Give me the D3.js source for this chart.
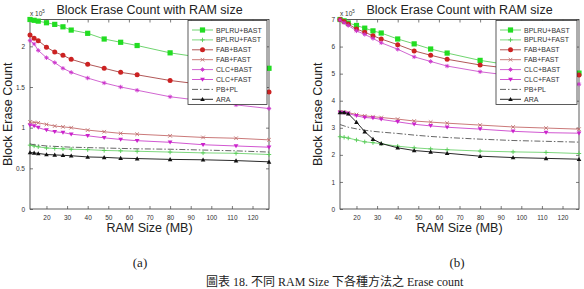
<!DOCTYPE html>
<html>
<head>
<meta charset="utf-8">
<script src="https://cdn.jsdelivr.net/npm/d3@7"></script>
<style>
  body { margin: 0; background: #fff; }
  svg { display: block; }
</style>
</head>
<body>
<svg id="drawing_region"></svg>
<script>
// RAM sizes (MB) on the x axis
const ramSizes = [12, 14, 16, 20, 24, 28, 32, 40, 48, 56, 64, 80, 96, 112, 128];
const xTicks = [20, 30, 40, 50, 60, 70, 80, 90, 100, 110, 120];
const seriesNames = ["BPLRU+BAST", "BPLRU+FAST", "FAB+BAST", "FAB+FAST", "CLC+BAST", "CLC+FAST", "PB+PL", "ARA"];

// (a) values in units of 10^5
const bplruBastA = [2.33, 2.32, 2.31, 2.29, 2.27, 2.24, 2.20, 2.16, 2.09, 2.05, 2.01, 1.92, 1.86, 1.79, 1.73];
const bplruFastA = [0.785, 0.775, 0.765, 0.75, 0.745, 0.74, 0.735, 0.73, 0.72, 0.715, 0.71, 0.70, 0.69, 0.685, 0.67];
const fabBastA   = [2.14, 2.10, 2.07, 1.99, 1.93, 1.89, 1.84, 1.78, 1.73, 1.68, 1.65, 1.58, 1.53, 1.48, 1.44];
const fabFastA   = [1.07, 1.065, 1.06, 1.04, 1.02, 1.01, 1.00, 0.97, 0.95, 0.93, 0.92, 0.90, 0.88, 0.87, 0.85];
const clcBastA   = [2.07, 2.03, 1.95, 1.86, 1.80, 1.73, 1.68, 1.61, 1.55, 1.50, 1.46, 1.38, 1.33, 1.28, 1.235];
const clcFastA   = [1.03, 1.02, 1.00, 0.97, 0.95, 0.94, 0.92, 0.90, 0.875, 0.855, 0.84, 0.82, 0.79, 0.775, 0.76];
const pbPlA      = [0.80, 0.79, 0.785, 0.775, 0.77, 0.765, 0.76, 0.755, 0.75, 0.745, 0.74, 0.735, 0.725, 0.715, 0.70];
const araA       = [0.695, 0.69, 0.683, 0.67, 0.665, 0.66, 0.655, 0.64, 0.635, 0.625, 0.62, 0.61, 0.605, 0.595, 0.58];
const yTicksA = [0, 0.5, 1, 1.5, 2];

// (b) values in units of 10^5
const bplruBastB = [7.0, 6.95, 6.87, 6.78, 6.68, 6.58, 6.50, 6.28, 6.10, 5.91, 5.76, 5.49, 5.30, 5.15, 5.02];
const bplruFastB = [2.67, 2.65, 2.62, 2.55, 2.48, 2.45, 2.41, 2.32, 2.26, 2.22, 2.19, 2.14, 2.11, 2.09, 2.05];
const fabBastB   = [7.0, 6.93, 6.83, 6.65, 6.53, 6.40, 6.28, 6.07, 5.84, 5.68, 5.53, 5.32, 5.18, 5.05, 4.95];
const fabFastB   = [3.59, 3.58, 3.56, 3.49, 3.44, 3.41, 3.38, 3.32, 3.25, 3.21, 3.17, 3.10, 3.03, 2.99, 2.95];
const clcBastB   = [6.98, 6.88, 6.78, 6.58, 6.45, 6.30, 6.14, 5.90, 5.62, 5.45, 5.28, 5.07, 4.92, 4.78, 4.61];
const clcFastB   = [3.56, 3.55, 3.53, 3.44, 3.38, 3.36, 3.31, 3.22, 3.13, 3.07, 3.02, 2.95, 2.87, 2.82, 2.80];
const pbPlB      = [3.12, 3.07, 3.02, 2.96, 2.91, 2.87, 2.84, 2.79, 2.73, 2.68, 2.64, 2.58, 2.53, 2.50, 2.47];
const araB       = [3.57, 3.57, 3.52, 3.21, 2.86, 2.58, 2.42, 2.26, 2.16, 2.11, 2.06, 1.95, 1.90, 1.87, 1.84];
const yTicksB = [0, 1, 2, 3, 4, 5, 6, 7];

// line / marker styles, same order as seriesNames
const styles = [
    {line: '#5fcf5f', mark: '#22dd22', shape: 'square'},
    {line: '#6fd36f', mark: '#55cc55', shape: 'plus'},
    {line: '#a84444', mark: '#cc2222', shape: 'circle'},
    {line: '#c46a6a', mark: '#c07070', shape: 'cross'},
    {line: '#cc55cc', mark: '#cc33cc', shape: 'star'},
    {line: '#cc44cc', mark: '#cc22cc', shape: 'tridown'},
    {line: '#555555', mark: null, shape: null, dash: '6,2,1.5,2'},
    {line: '#111111', mark: '#111111', shape: 'triup'}
];

const svg = d3.select('#drawing_region')
    .attr('width', 584)
    .attr('height', 289);

function drawMarker(g, shape, color, x, y) {
    if (!shape) return;
    if (shape === 'square') {
        g.append('rect').attr('x', x - 2.6).attr('y', y - 2.6)
            .attr('width', 5.2).attr('height', 5.2).attr('fill', color);
    } else if (shape === 'circle') {
        g.append('circle').attr('cx', x).attr('cy', y).attr('r', 2.5).attr('fill', color);
    } else if (shape === 'plus') {
        g.append('path').attr('d', `M${x-2.2},${y}H${x+2.2}M${x},${y-2.2}V${y+2.2}`)
            .attr('stroke', color).attr('stroke-width', 0.9);
    } else if (shape === 'cross') {
        g.append('path').attr('d', `M${x-1.8},${y-1.8}L${x+1.8},${y+1.8}M${x-1.8},${y+1.8}L${x+1.8},${y-1.8}`)
            .attr('stroke', color).attr('stroke-width', 0.9);
    } else if (shape === 'star') {
        g.append('path').attr('d', `M${x-2.2},${y}H${x+2.2}M${x},${y-2.2}V${y+2.2}M${x-1.5},${y-1.5}L${x+1.5},${y+1.5}M${x-1.5},${y+1.5}L${x+1.5},${y-1.5}`)
            .attr('stroke', color).attr('stroke-width', 0.9);
    } else if (shape === 'tridown') {
        g.append('path').attr('d', `M${x-2.4},${y-1.8}L${x+2.4},${y-1.8}L${x},${y+2.2}Z`).attr('fill', color);
    } else if (shape === 'triup') {
        g.append('path').attr('d', `M${x-2.3},${y+1.8}L${x+2.3},${y+1.8}L${x},${y-2.3}Z`).attr('fill', color);
    }
}

function drawChart(config, seriesValues) {
    const x = d3.scaleLinear().domain([12, 128]).range([config.left, config.right]);
    const y = d3.scaleLinear().domain([0, config.ymax]).range([config.bottom, config.top]);
    const g = svg.append('g');

    // frame
    g.append('rect')
        .attr('x', config.left).attr('y', config.top)
        .attr('width', config.right - config.left).attr('height', config.bottom - config.top)
        .attr('fill', 'none').attr('stroke', '#333').attr('stroke-width', 0.8);

    // axes with inward ticks
    const xAxisB = d3.axisBottom(x).tickValues(xTicks).tickSizeInner(-3).tickSizeOuter(0).tickPadding(6);
    const xAxisT = d3.axisTop(x).tickValues(xTicks).tickSizeInner(-3).tickSizeOuter(0).tickFormat('');
    const yAxisL = d3.axisLeft(y).tickValues(config.yticks).tickSizeInner(-3).tickSizeOuter(0).tickPadding(5).tickFormat(d3.format('~g'));
    const yAxisR = d3.axisRight(y).tickValues(config.yticks).tickSizeInner(-3).tickSizeOuter(0).tickFormat('');

    [[xAxisB, `translate(0,${config.bottom})`], [xAxisT, `translate(0,${config.top})`],
     [yAxisL, `translate(${config.left},0)`], [yAxisR, `translate(${config.right},0)`]]
        .forEach(([axis, tr]) => {
            const a = g.append('g').attr('transform', tr).call(axis);
            a.select('.domain').remove();
            a.selectAll('line').attr('stroke', '#444').attr('stroke-width', 0.7);
            a.selectAll('text').attr('fill', '#333').style('font-family', 'Arial, "Liberation Sans", sans-serif').style('font-size', '6.5px');
        });

    // x 10^5 multiplier
    const mult = g.append('text')
        .attr('x', config.left).attr('y', config.top - 4)
        .style('font-family', 'Arial, "Liberation Sans", sans-serif').style('font-size', '6.5px').attr('fill', '#333');
    mult.append('tspan').text('x 10');
    mult.append('tspan').attr('dy', -2.5).style('font-size', '4.5px').text('5');

    // series
    const line = d3.line().x((d, i) => x(ramSizes[i])).y(d => y(d));
    seriesValues.forEach((vals, k) => {
        const s = styles[k];
        g.append('path').datum(vals)
            .attr('d', line)
            .attr('fill', 'none')
            .attr('stroke', s.line)
            .attr('stroke-width', 0.9)
            .attr('stroke-dasharray', s.dash || null);
        vals.forEach((v, i) => drawMarker(g, s.shape, s.mark, x(ramSizes[i]), y(v)));
    });

    // legend
    const lg = g.append('g');
    lg.append('rect')
        .attr('x', config.legendX).attr('y', config.top + 1)
        .attr('width', config.legendW).attr('height', 84)
        .attr('fill', '#fff').attr('stroke', '#333').attr('stroke-width', 0.8);
    seriesNames.forEach((name, k) => {
        const s = styles[k];
        const ly = config.top + 10.5 + k * 9.9;
        lg.append('line')
            .attr('x1', config.legendX + 4).attr('x2', config.legendX + 25)
            .attr('y1', ly).attr('y2', ly)
            .attr('stroke', s.line).attr('stroke-width', 0.9)
            .attr('stroke-dasharray', s.dash || null);
        drawMarker(lg, s.shape, s.mark, config.legendX + 14.5, ly);
        lg.append('text')
            .attr('x', config.legendX + 28).attr('y', ly + 2.5)
            .style('font-family', 'Arial, "Liberation Sans", sans-serif').style('font-size', '7px')
            .attr('fill', '#333').text(name);
    });

    // title and labels
    const mid = (config.left + config.right) / 2;
    g.append('text')
        .attr('x', mid).attr('y', 14)
        .attr('text-anchor', 'middle')
        .style('font-family', 'Arial, "Liberation Sans", sans-serif').style('font-size', '12.5px')
        .attr('fill', '#222').text('Block Erase Count with RAM size');
    g.append('text')
        .attr('x', mid).attr('y', 232)
        .attr('text-anchor', 'middle')
        .style('font-family', 'Arial, "Liberation Sans", sans-serif').style('font-size', '12.5px')
        .attr('fill', '#222').text('RAM Size (MB)');
    g.append('text')
        .attr('transform', `translate(${config.left - 18},${(config.top + config.bottom) / 2}) rotate(-90)`)
        .attr('text-anchor', 'middle')
        .style('font-family', 'Arial, "Liberation Sans", sans-serif').style('font-size', '12.5px')
        .attr('fill', '#222').text('Block Erase Count');
    g.append('text')
        .attr('x', config.subX).attr('y', 267)
        .attr('text-anchor', 'middle')
        .style('font-family', '"Liberation Serif", "Times New Roman", serif').style('font-size', '13px')
        .attr('fill', '#222').text(config.sub);
}

drawChart({left: 30, right: 269, top: 19.5, bottom: 209, ymax: 2.33, yticks: yTicksA,
           legendX: 188, legendW: 79, subX: 140, sub: '(a)'},
          [bplruBastA, bplruFastA, fabBastA, fabFastA, clcBastA, clcFastA, pbPlA, araA]);

drawChart({left: 340, right: 579, top: 19.5, bottom: 209, ymax: 7, yticks: yTicksB,
           legendX: 496, legendW: 81, subX: 457, sub: '(b)'},
          [bplruBastB, bplruFastB, fabBastB, fabFastB, clcBastB, clcFastB, pbPlB, araB]);

// figure caption
svg.append('text')
    .attr('x', 206).attr('y', 286)
    .attr('text-anchor', 'start')
    .style('font-family', '"Liberation Serif", "Noto Sans CJK TC", serif').style('font-size', '12px')
    .attr('fill', '#222').text('圖表 18. 不同 RAM Size 下各種方法之 Erase count');
</script>
</body>
</html>
